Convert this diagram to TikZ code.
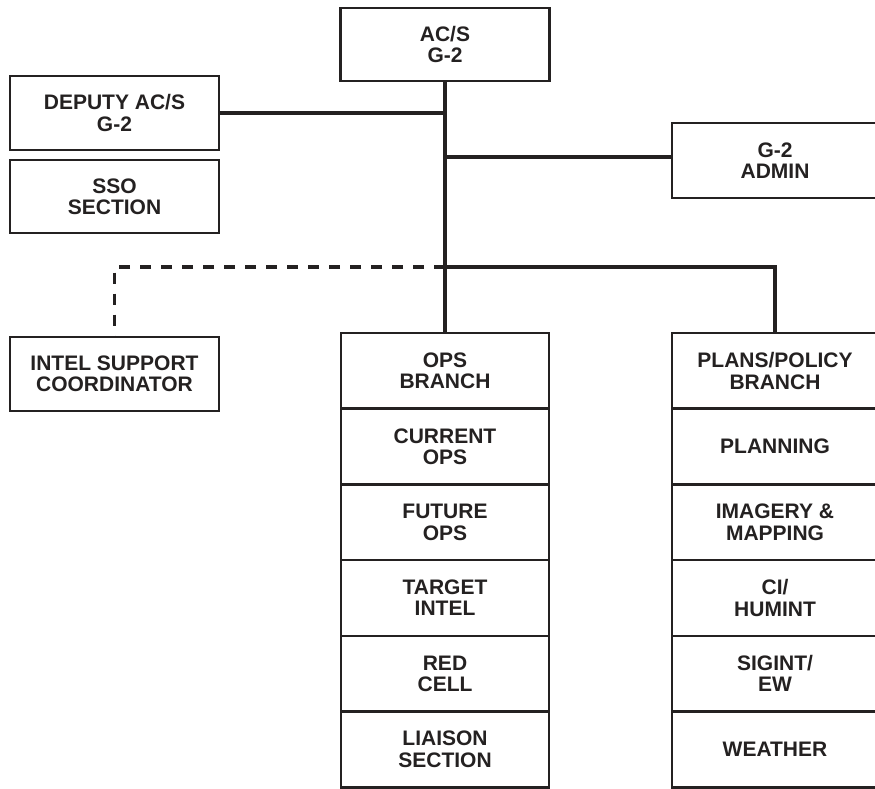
\documentclass[tikz,border=0pt]{standalone}
\usepackage{fontspec}
\setmainfont{Liberation Sans}
\definecolor{ink}{rgb}{0.14,0.13,0.13}
\begin{document}
\begin{tikzpicture}[x=1pt,y=-1pt,
  box/.style={draw=ink,line width=2.6pt,rectangle,inner sep=0pt,align=center,
    text=ink,font=\fontsize{21}{21.3}\selectfont\bfseries},
  opsbox/.style={box,minimum width=208pt,minimum height=75.7pt},
  plbox/.style={box,minimum width=206pt,minimum height=75.7pt},
  wide/.style={box,minimum width=209pt},
  link/.style={draw=ink,line width=3.4pt},
  dlink/.style={link,dash pattern=on 11pt off 10pt}]
\useasboundingbox (0,0) rectangle (875,789);
% top boxes
\node[wide,minimum height=73pt] (acs) at (445,44.5) {AC/S\\G-2};
\node[wide,minimum height=74pt] (dep) at (114.5,113) {DEPUTY AC/S\\G-2};
\node[wide,minimum height=73pt] (sso) at (114.5,196.5) {SSO\\SECTION};
\node[box,minimum width=206pt,minimum height=75pt] (adm) at (775,160.5) {G-2\\ADMIN};
\node[wide,minimum height=74pt] (isc) at (114.5,374) {INTEL SUPPORT\\COORDINATOR};
% ops column
\node[opsbox] (o1) at (445,370.85) {OPS\\BRANCH};
\node[opsbox] (o2) at (445,446.55) {CURRENT\\OPS};
\node[opsbox] (o3) at (445,522.25) {FUTURE\\OPS};
\node[opsbox] (o4) at (445,597.95) {TARGET\\INTEL};
\node[opsbox] (o5) at (445,673.65) {RED\\CELL};
\node[opsbox] (o6) at (445,749.35) {LIAISON\\SECTION};
% plans column
\node[plbox] (p1) at (775,370.85) {PLANS/POLICY\\BRANCH};
\node[plbox] (p2) at (775,446.55) {PLANNING};
\node[plbox] (p3) at (775,522.25) {IMAGERY \&\\MAPPING};
\node[plbox] (p4) at (775,597.95) {CI/\\HUMINT};
\node[plbox] (p5) at (775,673.65) {SIGINT/\\EW};
\node[plbox] (p6) at (775,749.35) {WEATHER};
% junctions
\coordinate (j2) at (445,157);
\coordinate (j3) at (445,267);
% connectors
\draw[link] (acs.south) -- (o1.north);
\draw[link] (dep.east) -- (dep.east -| acs.south);
\draw[link] (j2) -- (j2 -| adm.west);
\draw[link] (j3) -| (p1.north);
\draw[dlink] (j3) -| (isc.north);
\end{tikzpicture}
\end{document}
